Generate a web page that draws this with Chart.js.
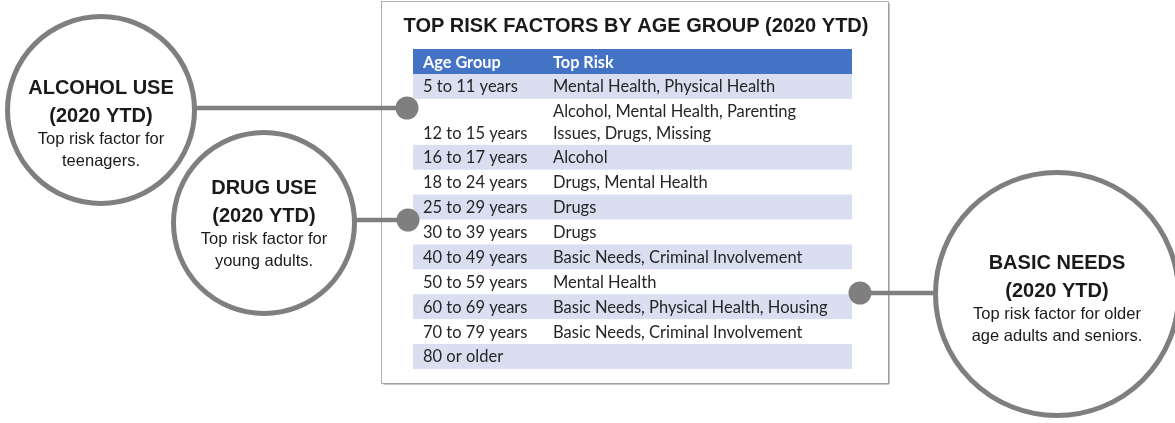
<!DOCTYPE html>
<html>
<head>
<meta charset="utf-8">
<script src="https://cdn.jsdelivr.net/npm/chart.js@4/dist/chart.umd.min.js"></script>
<style>
  html, body { margin: 0; padding: 0; background: #fff; }
  #wrap { width: 1175px; height: 423px; }
</style>
</head>
<body>
<div id="wrap"><canvas id="chart" width="1175" height="423"></canvas></div>
<script>
// Table content
const tableTitle = 'TOP RISK FACTORS BY AGE GROUP (2020 YTD)';
const columnHeaders = ['Age Group', 'Top Risk'];
const ageGroups = ['5 to 11 years', '12 to 15 years', '16 to 17 years', '18 to 24 years',
  '25 to 29 years', '30 to 39 years', '40 to 49 years', '50 to 59 years',
  '60 to 69 years', '70 to 79 years', '80 or older'];
const topRisks = [
  ['Mental Health, Physical Health'],
  ['Alcohol, Mental Health, Parenting', 'Issues, Drugs, Missing'],
  ['Alcohol'],
  ['Drugs, Mental Health'],
  ['Drugs'],
  ['Drugs'],
  ['Basic Needs, Criminal Involvement'],
  ['Mental Health'],
  ['Basic Needs, Physical Health, Housing'],
  ['Basic Needs, Criminal Involvement'],
  []
];

// Callout bubbles
const calloutTitles = ['ALCOHOL USE', 'DRUG USE', 'BASIC NEEDS'];
const calloutPeriods = ['(2020 YTD)', '(2020 YTD)', '(2020 YTD)'];
const calloutNotes = [
  ['Top risk factor for', 'teenagers.'],
  ['Top risk factor for', 'young adults.'],
  ['Top risk factor for older', 'age adults and seniors.']
];

// Layout (pixel space of the hidden scales)
const GREY = '#7f7f7f';
const box = { left: 381.5, top: 1.5, right: 888.5, bottom: 383.5 };
const table = { left: 413, right: 852, top: 49, headH: 25, rowH: 24.9, lineH: 22, col1: 423, col2: 553 };
const bubbles = [
  { x: 101, y: 110, r: 93.5, textTop: 87 },
  { x: 264, y: 223, r: 90.5, textTop: 187 },
  { x: 1057, y: 294, r: 121.5, textTop: 262 }
];
const links = [
  { from: 195, to: 407, y: 108 },
  { from: 355, to: 408, y: 220 },
  { from: 935, to: 860, y: 293 }
];

const linkSets = links.map(l => ({
  type: 'line',
  data: [{ x: l.from, y: l.y }, { x: l.to, y: l.y }],
  borderColor: GREY,
  borderWidth: 4.5,
  pointRadius: 0,
  order: 3,
  clip: false
}));

const tablePlugin = {
  id: 'tablePlugin',
  beforeDatasetsDraw(chart) {
    const { ctx, scales: { x, y } } = chart;
    ctx.save();

    // frame, with a slightly darker right/bottom edge like a drop shadow
    const bl = x.getPixelForValue(box.left), bt = y.getPixelForValue(box.top);
    const br = x.getPixelForValue(box.right), bb = y.getPixelForValue(box.bottom);
    ctx.strokeStyle = '#b0b0b0';
    ctx.lineWidth = 1;
    ctx.strokeRect(bl, bt, br - bl, bb - bt);
    ctx.strokeStyle = '#8c8c8c';
    ctx.beginPath();
    ctx.moveTo(br + 0.5, bt + 2);
    ctx.lineTo(br + 0.5, bb + 0.5);
    ctx.lineTo(bl + 2, bb + 0.5);
    ctx.stroke();

    // title
    ctx.fillStyle = '#1a1a1a';
    ctx.font = 'bold 20px "Liberation Sans", Arial, sans-serif';
    ctx.textAlign = 'center';
    ctx.textBaseline = 'alphabetic';
    ctx.fillText(tableTitle, x.getPixelForValue(636), y.getPixelForValue(32));

    const left = x.getPixelForValue(table.left);
    const width = x.getPixelForValue(table.right) - left;

    // header
    let top = table.top;
    ctx.fillStyle = '#4472c4';
    ctx.fillRect(left, y.getPixelForValue(top), width, y.getPixelForValue(top + table.headH) - y.getPixelForValue(top));
    ctx.fillStyle = '#ffffff';
    ctx.font = 'bold 16.3px Lato, sans-serif';
    ctx.textAlign = 'left';
    const headBase = y.getPixelForValue(top + table.headH / 2 + 6);
    ctx.fillText(columnHeaders[0], x.getPixelForValue(table.col1), headBase);
    ctx.fillText(columnHeaders[1], x.getPixelForValue(table.col2), headBase);
    top += table.headH;

    // rows
    ctx.font = '16.5px Lato, sans-serif';
    ageGroups.forEach((age, i) => {
      const lines = Math.max(1, topRisks[i].length);
      const h = table.rowH + (lines - 1) * (table.lineH - 1);
      if (i % 2 === 0) {
        ctx.fillStyle = '#d9dff1';
        ctx.fillRect(left, y.getPixelForValue(top), width, y.getPixelForValue(top + h) - y.getPixelForValue(top));
      }
      ctx.fillStyle = '#262626';
      const firstBase = top + table.rowH / 2 + 6;
      topRisks[i].forEach((txt, k) => {
        ctx.fillText(txt, x.getPixelForValue(table.col2), y.getPixelForValue(firstBase + k * table.lineH));
      });
      ctx.fillText(age, x.getPixelForValue(table.col1), y.getPixelForValue(firstBase + (lines - 1) * table.lineH));
      top += h;
    });
    ctx.restore();
  },
  afterDatasetsDraw(chart) {
    const { ctx, scales: { x, y } } = chart;
    ctx.save();
    ctx.fillStyle = '#1a1a1a';
    ctx.textAlign = 'center';
    ctx.textBaseline = 'alphabetic';
    bubbles.forEach((b, i) => {
      const cx = x.getPixelForValue(b.x);
      ctx.font = 'bold 20px "Liberation Sans", Arial, sans-serif';
      ctx.fillText(calloutTitles[i], cx, y.getPixelForValue(b.textTop + 7));
      ctx.fillText(calloutPeriods[i], cx, y.getPixelForValue(b.textTop + 27.5 + 7));
      ctx.font = '16.5px "Liberation Sans", Arial, sans-serif';
      ctx.fillText(calloutNotes[i][0], cx, y.getPixelForValue(b.textTop + 51 + 6));
      ctx.fillText(calloutNotes[i][1], cx, y.getPixelForValue(b.textTop + 73 + 6));
    });
    ctx.restore();
  }
};

new Chart(document.getElementById('chart'), {
  type: 'scatter',
  data: {
    datasets: [
      ...linkSets,
      {
        label: 'dots',
        data: links.map(l => ({ x: l.to, y: l.y })),
        backgroundColor: GREY,
        borderWidth: 0,
        pointRadius: 11.5,
        order: 2,
        clip: false
      },
      {
        label: 'bubbles',
        data: bubbles.map(b => ({ x: b.x, y: b.y })),
        backgroundColor: '#ffffff',
        borderColor: GREY,
        borderWidth: 5,
        pointRadius: bubbles.map(b => b.r),
        order: 1,
        clip: false
      }
    ]
  },
  options: {
    responsive: false,
    animation: false,
    layout: { padding: 0, autoPadding: false },
    plugins: { legend: { display: false }, tooltip: { enabled: false } },
    scales: {
      x: { type: 'linear', min: 0, max: 1175, display: false },
      y: { type: 'linear', min: 0, max: 423, reverse: true, display: false }
    }
  },
  plugins: [tablePlugin]
});
</script>
</body>
</html>
